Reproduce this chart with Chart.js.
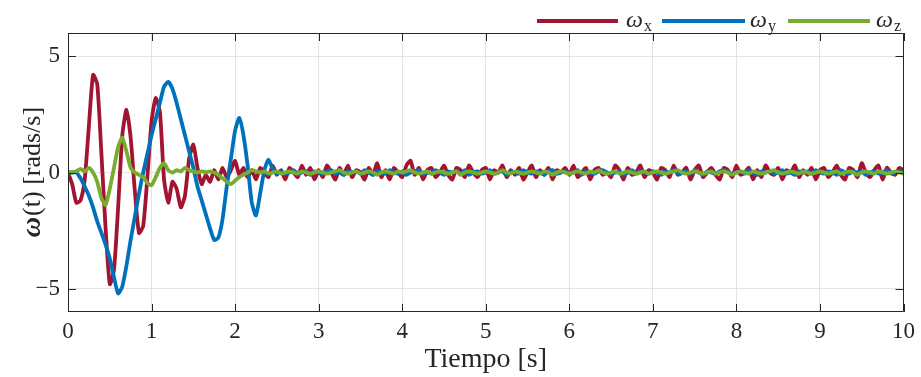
<!DOCTYPE html>
<html>
<head>
<meta charset="utf-8">
<script src="https://cdn.jsdelivr.net/npm/chart.js@4/dist/chart.umd.min.js"></script>
<style>
    html, body { margin: 0; padding: 0; background: #fff; }
    #wrap { width: 921px; height: 377px; }
</style>
</head>
<body>
<div id="wrap"><canvas id="omegaChart" width="921" height="377"></canvas></div>
<script>
// Sampling step of the signals (s)
const dt = 0.05;

// Angular velocity, x axis [rads/s], one value every 0.05 s from 0 to 10 s
const wx = [
    0, -0.5, -1.3, -1.2, -0.3, 2.0, 4.2, 3.8, 0.8, -2.4,
    -4.8, -4.2, -1.5, 1.6, 2.7, 1.5, -0.8, -2.6, -2.3, -0.2,
    2.2, 3.2, 2.6, -0.3, -1.3, -0.4, -0.7, -1.5, -1.0, 0.6,
    1.2, 0.2, -0.5, -0.1, -0.4, 0.1, -0.3, 0.2, -0.2, 0.1,
    0.5, -0.1, 0.2, -0.2, 0.1, -0.3, 0.2, 0.0, -0.2, 0.3, -0.1, 0.1, -0.3, 0.2, 0.0, -0.2, 0.3, -0.1, 0.2, -0.3,
    0.1, -0.2, 0.3, 0.0, -0.3, 0.2, -0.1, 0.3, -0.2, 0.1, 0.0, -0.3, 0.2, -0.1, 0.4, -0.2, 0.1, -0.3, 0.2, 0.0,
    -0.2, 0.3, 0.5, -0.1, 0.2, -0.3, 0.1, 0.2, -0.2, 0.0, 0.3, -0.1, -0.3, 0.2, 0.1, -0.2, 0.3, 0.0, -0.2, 0.1,
    0.2, -0.3, 0.1, 0.0, 0.3, -0.2, 0.1, -0.1, 0.2, -0.3, 0.0, 0.3, -0.2, 0.1, -0.1, 0.2, -0.3, 0.1, 0.0, 0.2,
    -0.1, 0.3, -0.2, 0.0, 0.2, -0.3, 0.1, 0.2, -0.1, 0.0, -0.2, 0.3, 0.1, -0.3, 0.2, -0.1, 0.0, 0.3, -0.2, 0.1,
    0.0, -0.3, 0.2, 0.1, -0.2, 0.3, -0.1, 0.0, 0.2, -0.3, 0.1, 0.3, -0.2, 0.0, 0.2, -0.1, -0.3, 0.2, 0.1, -0.2,
    0.3, -0.1, 0.0, 0.2, -0.3, 0.1, -0.2, 0.3, 0.0, -0.1, 0.2, -0.3, 0.1, 0.0, 0.3, -0.2, 0.1, -0.1, 0.2, -0.3,
    0.1, 0.2, -0.2, 0.0, 0.3, -0.1, -0.3, 0.2, 0.1, -0.2, 0.4, 0.0, -0.2, 0.1, 0.3, -0.3, 0.2, 0.0, -0.1, 0.2,
    0.1
];

// Angular velocity, y axis [rads/s]
const wy = [
    0, 0, 0, -0.25, -0.6, -1.0, -1.5, -2.1, -2.6, -3.1, -3.7, -4.5, -5.2, -4.9, -4.0, -2.9, -1.9, -0.9, 0.0, 0.8,
    1.6, 2.3, 3.0, 3.7, 3.9, 3.6, 3.0, 2.3, 1.6, 0.9, 0.2, -0.6, -1.2, -1.8, -2.4, -2.9, -2.8, -2.0, -0.6, 0.6,
    1.8, 2.35, 1.6, 0.3, -1.3, -1.85, -0.9, 0.1, 0.55, 0.15, -0.05, 0.05, -0.05, 0.0, 0.1, -0.05, 0.0, 0.05, -0.1, 0.05,
    0.0, -0.05, 0.05, 0.1, -0.05, 0.0, -0.1, 0.05, 0.0, 0.05, -0.05, 0.1, 0.0, -0.1, 0.05, 0.0, -0.05, 0.1, 0.0, -0.05,
    0.05, -0.1, 0.0, 0.05, 0.1, -0.05, 0.0, -0.05, 0.1, 0.0, -0.1, 0.05, 0.0, 0.05, -0.05, 0.1, -0.1, 0.0, 0.05, -0.05,
    0.0, 0.1, -0.05, 0.0, 0.05, -0.1, 0.05, 0.0, -0.05, 0.1, 0.0, -0.05, 0.05, 0.0, -0.1, 0.05, 0.1, -0.05, 0.0, 0.05,
    -0.05, 0.0, 0.1, -0.1, 0.05, 0.0, -0.05, 0.05, 0.1, 0.0, -0.05, 0.0, 0.05, -0.1, 0.0, 0.1, -0.05, 0.05, 0.0, -0.05,
    0.05, 0.0, -0.1, 0.05, 0.0, 0.1, -0.05, 0.0, 0.05, -0.05, 0.1, 0.0, -0.1, 0.05, 0.0, -0.05, 0.05, 0.1, 0.0, -0.05,
    0.0, 0.05, -0.05, 0.1, 0.0, -0.1, 0.05, 0.0, 0.05, -0.05, 0.0, 0.1, -0.05, 0.0, -0.1, 0.05, 0.0, 0.05, -0.05, 0.1,
    0.0, -0.05, 0.05, 0.0, -0.1, 0.1, 0.0, -0.05, 0.05, 0.0, 0.05, -0.1, 0.0, 0.05, -0.05, 0.0, 0.1, -0.05, 0.0, 0.05,
    0.0
];

// Angular velocity, z axis [rads/s]
const wz = [
    0, 0, 0.05, 0.15, 0.05, 0.2, 0.0, -0.4, -1.1, -1.4, -0.7, 0.2, 1.1, 1.5, 0.9, 0.2, 0.0, -0.1, -0.2, -0.45,
    -0.55, -0.2, 0.2, 0.4, 0.1, 0.0, 0.1, 0.05, 0.2, 0.1, 0.05, 0.0, 0.05, 0.0, 0.05, 0.0, -0.1, -0.25, -0.4, -0.5,
    -0.35, -0.2, -0.1, 0.0, 0.1, 0.05, 0.0, 0.05, -0.05, 0.0, 0.05, -0.05, 0.0, 0.05, 0.0, -0.05, 0.05, 0.0, -0.05, 0.0,
    0.05, 0.0, -0.05, 0.0, 0.05, 0.1, 0.0, -0.05, 0.0, 0.05, -0.05, 0.0, 0.05, 0.0, -0.1, 0.0, 0.05, 0.0, -0.05, 0.05,
    0.0, 0.05, 0.1, 0.0, -0.05, 0.0, 0.05, -0.05, 0.0, 0.05, 0.0, -0.05, 0.0, 0.05, -0.1, 0.0, 0.05, 0.0, -0.05, 0.0,
    0.05, 0.0, -0.05, 0.0, 0.1, 0.0, -0.05, 0.05, 0.0, -0.05, 0.0, 0.05, 0.0, -0.05, 0.05, 0.0, -0.1, 0.0, 0.05, 0.0,
    -0.05, 0.0, 0.05, 0.0, -0.05, 0.05, 0.0, 0.1, 0.0, -0.05, 0.0, 0.05, -0.05, 0.0, 0.05, 0.0, -0.05, 0.0, 0.05, -0.05,
    0.0, 0.05, 0.0, -0.05, 0.0, 0.05, 0.1, 0.0, -0.05, 0.0, 0.05, 0.0, -0.05, 0.0, 0.05, -0.05, 0.0, 0.05, 0.0, -0.1,
    0.0, 0.05, 0.0, -0.05, 0.05, 0.0, -0.05, 0.0, 0.05, 0.1, 0.0, -0.05, 0.0, 0.05, 0.0, -0.05, 0.05, 0.0, -0.05, 0.0,
    0.05, 0.0, -0.05, 0.0, 0.05, -0.05, 0.0, 0.05, 0.0, -0.1, 0.0, 0.05, 0.0, -0.05, 0.05, 0.0, -0.05, 0.0, 0.05, 0.0,
    -0.05
];

// Axis ticks
const xTicks = [0, 1, 2, 3, 4, 5, 6, 7, 8, 9, 10];
const yTicks = [-5, 0, 5];

const seriesColors = ['#A2142F', '#0072BD', '#77AC30'];
const subscripts = ['x', 'y', 'z'];

const textColor = '#262626';
const serif = '"Liberation Serif", "DejaVu Serif", serif';

// Time stamp of each sample
const tiempo = wx.map((v, i) => +(i * dt).toFixed(2));

function toPoints(values) {
    return values.map((v, i) => ({ x: tiempo[i], y: v }));
}

// Box, inward ticks, axis titles and legend (MATLAB look)
const decoPlugin = {
    id: 'deco',
    afterDraw(chart) {
        const ctx = chart.ctx;
        const a = chart.chartArea;
        const xs = chart.scales.x;
        const ys = chart.scales.y;

        ctx.save();
        ctx.strokeStyle = textColor;
        ctx.lineWidth = 1;
        ctx.beginPath();
        ctx.rect(Math.round(a.left) + 0.5, Math.round(a.top) + 0.5,
                 Math.round(a.right - a.left) - 1, Math.round(a.bottom - a.top) - 1);
        xTicks.forEach(v => {
            const px = Math.round(xs.getPixelForValue(v)) + 0.5;
            ctx.moveTo(px, a.bottom); ctx.lineTo(px, a.bottom - 8);
            ctx.moveTo(px, a.top); ctx.lineTo(px, a.top + 8);
        });
        yTicks.forEach(v => {
            const py = Math.round(ys.getPixelForValue(v)) + 0.5;
            ctx.moveTo(a.left, py); ctx.lineTo(a.left + 8, py);
            ctx.moveTo(a.right, py); ctx.lineTo(a.right - 8, py);
        });
        ctx.stroke();

        // x axis title
        ctx.fillStyle = textColor;
        ctx.font = '28px ' + serif;
        ctx.textAlign = 'center';
        ctx.textBaseline = 'alphabetic';
        ctx.fillText('Tiempo [s]', (a.left + a.right) / 2, 367);

        // y axis title: bold omega + regular rest
        ctx.save();
        ctx.translate(40, (a.top + a.bottom) / 2);
        ctx.rotate(-Math.PI / 2);
        const boldFont = 'bold italic 28px ' + serif;
        const normFont = '26px ' + serif;
        ctx.font = boldFont;
        const w1 = ctx.measureText('ω').width;
        ctx.font = normFont;
        const rest = '(t) [rads/s]';
        const w2 = ctx.measureText(rest).width;
        let x0 = -(w1 + w2) / 2;
        ctx.textAlign = 'left';
        ctx.font = boldFont;
        ctx.fillText('ω', x0, 0);
        ctx.font = normFont;
        ctx.fillText(rest, x0 + w1 + 1, 0);
        ctx.restore();

        // legend
        const legendLines = [[537, 618], [662, 745], [788, 870]];
        const legendText = [626, 750, 876];
        ctx.lineWidth = 4;
        ctx.textAlign = 'left';
        legendLines.forEach((seg, i) => {
            ctx.strokeStyle = seriesColors[i];
            ctx.beginPath();
            ctx.moveTo(seg[0], 21);
            ctx.lineTo(seg[1], 21);
            ctx.stroke();
            ctx.font = 'italic 24px ' + serif;
            ctx.fillText('ω', legendText[i], 27);
            const w = ctx.measureText('ω').width;
            ctx.font = '16px ' + serif;
            ctx.fillText(subscripts[i], legendText[i] + w + 1, 31);
        });
        ctx.restore();
    }
};

const ctx = document.getElementById('omegaChart').getContext('2d');

const datasets = [wx, wy, wz].map((vals, i) => ({
    label: 'ω' + subscripts[i],
    data: toPoints(vals),
    borderColor: seriesColors[i],
    backgroundColor: seriesColors[i],
    borderWidth: 3.8,
    pointRadius: 0,
    tension: 0.2,
    order: 3 - i // z on top, x at the bottom
}));

new Chart(ctx, {
    type: 'line',
    data: { datasets: datasets },
    options: {
        responsive: false,
        animation: false,
        layout: { padding: { top: 33, right: 15, left: 0, bottom: 0 } },
        plugins: {
            legend: { display: false },
            tooltip: { enabled: false }
        },
        scales: {
            x: {
                type: 'linear',
                min: 0,
                max: 10,
                afterBuildTicks: s => { s.ticks = xTicks.map(v => ({ value: v })); },
                afterFit: s => { s.height = 65; },
                ticks: {
                    color: textColor,
                    font: { family: serif, size: 23 },
                    padding: 6,
                    maxRotation: 0
                },
                grid: { color: '#e3e3e3', drawTicks: false },
                border: { display: false }
            },
            y: {
                min: -6,
                max: 6,
                afterBuildTicks: s => { s.ticks = yTicks.map(v => ({ value: v })); },
                afterFit: s => { s.width = 68; },
                ticks: {
                    color: textColor,
                    font: { family: serif, size: 23 },
                    padding: 8,
                    callback: v => String(v).replace('-', '\u2212')
                },
                grid: { color: '#e3e3e3', drawTicks: false },
                border: { display: false }
            }
        }
    },
    plugins: [decoPlugin]
});
</script>
</body>
</html>
